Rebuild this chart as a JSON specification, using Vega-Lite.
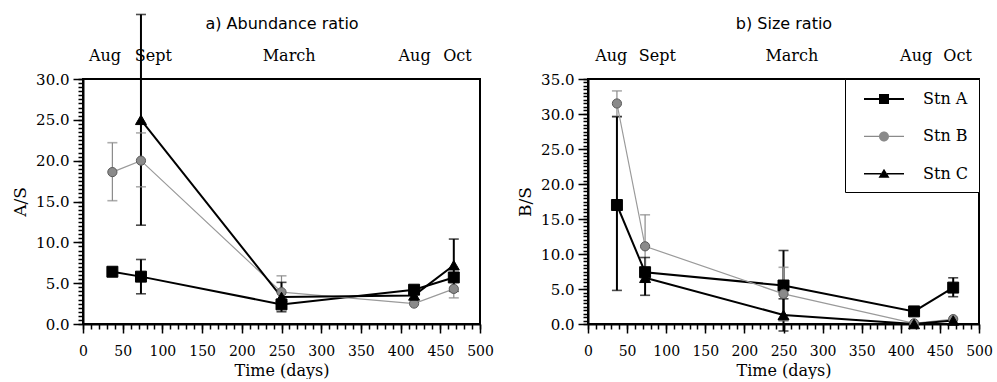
{
  "$schema": "https://vega.github.io/schema/vega-lite/v6.json",
  "background": "white",
  "padding": {"left": 10, "top": 12, "right": 0, "bottom": 0},
  "bounds": "flush",
  "spacing": 108,
  "config": {
    "view": {"stroke": "black", "strokeWidth": 2},
    "axis": {
      "grid": false,
      "domainColor": "black",
      "domainWidth": 2,
      "tickColor": "black",
      "tickWidth": 1.5,
      "labelColor": "black",
      "titleColor": "black",
      "labelFont": "DejaVu Serif",
      "titleFont": "DejaVu Serif",
      "labelFontSize": 14,
      "titleFontSize": 16,
      "titleFontWeight": "normal"
    }
  },
  "datasets": {
    "abundance": [
      {"station": "Stn A", "day": 37, "value": 6.4},
      {"station": "Stn A", "day": 73, "value": 5.8, "lo": 3.7, "hi": 7.9},
      {"station": "Stn A", "day": 250, "value": 2.4},
      {"station": "Stn A", "day": 417, "value": 4.2},
      {"station": "Stn A", "day": 467, "value": 5.7},
      {"station": "Stn B", "day": 37, "value": 18.6, "lo": 15.1, "hi": 22.2},
      {"station": "Stn B", "day": 73, "value": 20.0, "lo": 16.8, "hi": 23.4},
      {"station": "Stn B", "day": 250, "value": 3.9, "lo": 2.0, "hi": 5.9},
      {"station": "Stn B", "day": 417, "value": 2.5},
      {"station": "Stn B", "day": 467, "value": 4.3, "lo": 3.2, "hi": 5.4},
      {"station": "Stn C", "day": 73, "value": 25.0, "lo": 12.1, "hi": 37.9},
      {"station": "Stn C", "day": 250, "value": 3.3, "lo": 1.5, "hi": 5.1},
      {"station": "Stn C", "day": 417, "value": 3.5},
      {"station": "Stn C", "day": 467, "value": 7.2, "lo": 4.0, "hi": 10.4}
    ],
    "size": [
      {"station": "Stn A", "day": 37, "value": 17.0, "lo": 4.8, "hi": 29.6},
      {"station": "Stn A", "day": 73, "value": 7.4, "lo": 4.1, "hi": 9.5},
      {"station": "Stn A", "day": 250, "value": 5.5, "lo": 0.5, "hi": 10.5},
      {"station": "Stn A", "day": 417, "value": 1.8},
      {"station": "Stn A", "day": 467, "value": 5.2, "lo": 3.9, "hi": 6.6},
      {"station": "Stn B", "day": 37, "value": 31.5, "lo": 29.7, "hi": 33.3},
      {"station": "Stn B", "day": 73, "value": 11.1, "lo": 6.6, "hi": 15.6},
      {"station": "Stn B", "day": 250, "value": 4.3, "lo": 0.5, "hi": 8.1},
      {"station": "Stn B", "day": 417, "value": 0.1},
      {"station": "Stn B", "day": 467, "value": 0.7},
      {"station": "Stn C", "day": 73, "value": 6.6},
      {"station": "Stn C", "day": 250, "value": 1.3, "lo": -1.0, "hi": 3.6},
      {"station": "Stn C", "day": 417, "value": 0.0},
      {"station": "Stn C", "day": 467, "value": 0.5}
    ]
  },
  "hconcat": [
    {
      "width": 397,
      "height": 245,
      "data": {"name": "abundance"},
      "resolve": {"axis": {"x": "independent", "y": "independent"}},
      "layer": [
        {
          "transform": [{"filter": "isValid(datum.lo)"}],
          "mark": {"type": "rule"},
          "encoding": {
            "x": {"field": "day", "type": "quantitative", "scale": {"domain": [0, 500], "nice": false},
              "axis": {"orient": "top", "values": [27, 88, 259, 417, 471], "labelExpr": "datum.value == 27 ? 'Aug' : datum.value == 88 ? 'Sept' : datum.value == 259 ? 'March' : datum.value == 417 ? 'Aug' : 'Oct'", "ticks": false, "tickSize": 0, "domain": false, "labelFontSize": 16, "labelPadding": 16, "labelFlush": false, "labelOverlap": false, "title": "a) Abundance ratio", "titleFont": "DejaVu Sans", "titleFontSize": 16, "titlePadding": 16}},
            "y": {"field": "lo", "type": "quantitative", "scale": {"domain": [0, 30], "nice": false}, "axis": null},
            "y2": {"field": "hi"},
            "stroke": {"condition": {"test": "datum.station === 'Stn B'", "value": "#8a8a8a"}, "value": "#000000"},
            "strokeWidth": {"condition": {"test": "datum.station === 'Stn B'", "value": 1.2}, "value": 2}
          }
        },
        {
          "transform": [{"filter": "isValid(datum.lo)"}],
          "mark": {"type": "tick", "orient": "horizontal", "size": 10, "thickness": 1.6},
          "encoding": {
            "x": {"field": "day", "type": "quantitative", "scale": {"domain": [0, 500], "nice": false},
              "axis": {"orient": "bottom", "values": [0, 10, 20, 30, 40, 50, 60, 70, 80, 90, 100, 110, 120, 130, 140, 150, 160, 170, 180, 190, 200, 210, 220, 230, 240, 250, 260, 270, 280, 290, 300, 310, 320, 330, 340, 350, 360, 370, 380, 390, 400, 410, 420, 430, 440, 450, 460, 470, 480, 490, 500], "labels": false, "domain": false, "tickSize": 5, "title": null}},
            "y": {"field": "lo", "type": "quantitative", "scale": {"domain": [0, 30], "nice": false},
              "axis": {"orient": "left", "values": [0, 0.5, 1, 1.5, 2, 2.5, 3, 3.5, 4, 4.5, 5, 5.5, 6, 6.5, 7, 7.5, 8, 8.5, 9, 9.5, 10, 10.5, 11, 11.5, 12, 12.5, 13, 13.5, 14, 14.5, 15, 15.5, 16, 16.5, 17, 17.5, 18, 18.5, 19, 19.5, 20, 20.5, 21, 21.5, 22, 22.5, 23, 23.5, 24, 24.5, 25, 25.5, 26, 26.5, 27, 27.5, 28, 28.5, 29, 29.5, 30], "labels": false, "domain": false, "tickSize": 5, "title": null}},
            "color": {"condition": {"test": "datum.station === 'Stn B'", "value": "#8a8a8a"}, "value": "#000000"}
          }
        },
        {
          "transform": [{"filter": "isValid(datum.hi)"}],
          "mark": {"type": "tick", "orient": "horizontal", "size": 10, "thickness": 1.6},
          "encoding": {
            "x": {"field": "day", "type": "quantitative", "scale": {"domain": [0, 500], "nice": false}, "axis": null},
            "y": {"field": "hi", "type": "quantitative", "scale": {"domain": [0, 30], "nice": false}, "axis": null},
            "color": {"condition": {"test": "datum.station === 'Stn B'", "value": "#8a8a8a"}, "value": "#000000"}
          }
        },
        {
          "mark": {"type": "line"},
          "encoding": {
            "x": {"field": "day", "type": "quantitative", "scale": {"domain": [0, 500], "nice": false},
              "axis": {"orient": "bottom", "values": [0, 50, 100, 150, 200, 250, 300, 350, 400, 450, 500], "tickSize": 9, "labelPadding": 11, "labelFlush": false, "title": "Time (days)", "titlePadding": 4}},
            "y": {"field": "value", "type": "quantitative", "scale": {"domain": [0, 30], "nice": false},
              "axis": {"orient": "left", "values": [0, 5, 10, 15, 20, 25, 30], "format": ".1f", "tickSize": 10, "labelPadding": 4, "labelFontSize": 15, "title": "A/S", "titleFontSize": 17, "titlePadding": 6}},
            "detail": {"field": "station", "type": "nominal"},
            "stroke": {"condition": {"test": "datum.station === 'Stn B'", "value": "#9a9a9a"}, "value": "#000000"},
            "strokeWidth": {"condition": {"test": "datum.station === 'Stn B'", "value": 1.2}, "value": 2}
          }
        },
        {
          "mark": {"type": "point", "filled": true, "opacity": 1, "strokeWidth": 1},
          "encoding": {
            "x": {"field": "day", "type": "quantitative", "scale": {"domain": [0, 500], "nice": false}, "axis": null},
            "y": {"field": "value", "type": "quantitative", "scale": {"domain": [0, 30], "nice": false}, "axis": null},
            "shape": {"condition": [{"test": "datum.station === 'Stn B'", "value": "circle"}, {"test": "datum.station === 'Stn C'", "value": "triangle-up"}], "value": "square"},
            "size": {"condition": {"test": "datum.station === 'Stn B'", "value": 85}, "value": 120},
            "fill": {"condition": {"test": "datum.station === 'Stn B'", "value": "#8a8a8a"}, "value": "#000000"},
            "stroke": {"condition": {"test": "datum.station === 'Stn B'", "value": "#5a5a5a"}, "value": "#000000"}
          }
        }
      ]
    },
    {
      "width": 391,
      "height": 245,
      "data": {"name": "size"},
      "resolve": {"axis": {"x": "independent", "y": "independent"}},
      "layer": [
        {
          "transform": [{"filter": "isValid(datum.lo)"}],
          "mark": {"type": "rule"},
          "encoding": {
            "x": {"field": "day", "type": "quantitative", "scale": {"domain": [0, 500], "nice": false},
              "axis": {"orient": "top", "values": [29, 88, 260, 419, 472], "labelExpr": "datum.value == 29 ? 'Aug' : datum.value == 88 ? 'Sept' : datum.value == 260 ? 'March' : datum.value == 419 ? 'Aug' : 'Oct'", "ticks": false, "tickSize": 0, "domain": false, "labelFontSize": 16, "labelPadding": 16, "labelFlush": false, "labelOverlap": false, "title": "b) Size ratio", "titleFont": "DejaVu Sans", "titleFontSize": 16, "titlePadding": 16}},
            "y": {"field": "lo", "type": "quantitative", "scale": {"domain": [0, 35], "nice": false}, "axis": null},
            "y2": {"field": "hi"},
            "stroke": {"condition": {"test": "datum.station === 'Stn B'", "value": "#8a8a8a"}, "value": "#000000"},
            "strokeWidth": {"condition": {"test": "datum.station === 'Stn B'", "value": 1.2}, "value": 2}
          }
        },
        {
          "transform": [{"filter": "isValid(datum.lo)"}],
          "mark": {"type": "tick", "orient": "horizontal", "size": 10, "thickness": 1.6},
          "encoding": {
            "x": {"field": "day", "type": "quantitative", "scale": {"domain": [0, 500], "nice": false},
              "axis": {"orient": "bottom", "values": [0, 10, 20, 30, 40, 50, 60, 70, 80, 90, 100, 110, 120, 130, 140, 150, 160, 170, 180, 190, 200, 210, 220, 230, 240, 250, 260, 270, 280, 290, 300, 310, 320, 330, 340, 350, 360, 370, 380, 390, 400, 410, 420, 430, 440, 450, 460, 470, 480, 490, 500], "labels": false, "domain": false, "tickSize": 5, "title": null}},
            "y": {"field": "lo", "type": "quantitative", "scale": {"domain": [0, 35], "nice": false},
              "axis": {"orient": "left", "values": [0, 0.5, 1, 1.5, 2, 2.5, 3, 3.5, 4, 4.5, 5, 5.5, 6, 6.5, 7, 7.5, 8, 8.5, 9, 9.5, 10, 10.5, 11, 11.5, 12, 12.5, 13, 13.5, 14, 14.5, 15, 15.5, 16, 16.5, 17, 17.5, 18, 18.5, 19, 19.5, 20, 20.5, 21, 21.5, 22, 22.5, 23, 23.5, 24, 24.5, 25, 25.5, 26, 26.5, 27, 27.5, 28, 28.5, 29, 29.5, 30, 30.5, 31, 31.5, 32, 32.5, 33, 33.5, 34, 34.5, 35], "labels": false, "domain": false, "tickSize": 5, "title": null}},
            "color": {"condition": {"test": "datum.station === 'Stn B'", "value": "#8a8a8a"}, "value": "#000000"}
          }
        },
        {
          "transform": [{"filter": "isValid(datum.hi)"}],
          "mark": {"type": "tick", "orient": "horizontal", "size": 10, "thickness": 1.6},
          "encoding": {
            "x": {"field": "day", "type": "quantitative", "scale": {"domain": [0, 500], "nice": false}, "axis": null},
            "y": {"field": "hi", "type": "quantitative", "scale": {"domain": [0, 35], "nice": false}, "axis": null},
            "color": {"condition": {"test": "datum.station === 'Stn B'", "value": "#8a8a8a"}, "value": "#000000"}
          }
        },
        {
          "mark": {"type": "line"},
          "encoding": {
            "x": {"field": "day", "type": "quantitative", "scale": {"domain": [0, 500], "nice": false},
              "axis": {"orient": "bottom", "values": [0, 50, 100, 150, 200, 250, 300, 350, 400, 450, 500], "tickSize": 9, "labelPadding": 11, "labelFlush": false, "title": "Time (days)", "titlePadding": 4}},
            "y": {"field": "value", "type": "quantitative", "scale": {"domain": [0, 35], "nice": false},
              "axis": {"orient": "left", "values": [0, 5, 10, 15, 20, 25, 30, 35], "format": ".1f", "tickSize": 10, "labelPadding": 4, "labelFontSize": 15, "title": "B/S", "titleFontSize": 17, "titlePadding": 6}},
            "detail": {"field": "station", "type": "nominal"},
            "stroke": {"condition": {"test": "datum.station === 'Stn B'", "value": "#9a9a9a"}, "value": "#000000"},
            "strokeWidth": {"condition": {"test": "datum.station === 'Stn B'", "value": 1.2}, "value": 2}
          }
        },
        {
          "mark": {"type": "point", "filled": true, "opacity": 1, "strokeWidth": 1},
          "encoding": {
            "x": {"field": "day", "type": "quantitative", "scale": {"domain": [0, 500], "nice": false}, "axis": null},
            "y": {"field": "value", "type": "quantitative", "scale": {"domain": [0, 35], "nice": false}, "axis": null},
            "shape": {"condition": [{"test": "datum.station === 'Stn B'", "value": "circle"}, {"test": "datum.station === 'Stn C'", "value": "triangle-up"}], "value": "square"},
            "size": {"condition": {"test": "datum.station === 'Stn B'", "value": 85}, "value": 120},
            "fill": {"condition": {"test": "datum.station === 'Stn B'", "value": "#8a8a8a"}, "value": "#000000"},
            "stroke": {"condition": {"test": "datum.station === 'Stn B'", "value": "#5a5a5a"}, "value": "#000000"}
          }
        },
        {
          "mark": {"type": "point", "filled": true, "opacity": 0, "strokeWidth": 0},
          "encoding": {
            "x": {"field": "day", "type": "quantitative", "scale": {"domain": [0, 500], "nice": false}, "axis": null},
            "y": {"field": "value", "type": "quantitative", "scale": {"domain": [0, 35], "nice": false}, "axis": null},
            "shape": {"field": "station", "type": "nominal",
              "scale": {"domain": ["Stn A", "Stn B", "Stn C"], "range": [
                "M-2,-0.1H-0.5V0.1H-2Z M0.5,-0.1H2V0.1H0.5Z M-0.5,-0.5H0.5V0.5H-0.5Z",
                "M-2,-0.06H-0.48V0.06H-2Z M0.48,-0.06H2V0.06H0.48Z M-0.5,0A0.5,0.5 0 1,1 0.5,0A0.5,0.5 0 1,1 -0.5,0Z",
                "M-2,-0.08H-0.3V0.08H-2Z M0.3,-0.08H2V0.08H0.3Z M-0.55,0.4L0,-0.5L0.55,0.4Z"]},
              "legend": {
                "orient": "top-right",
                "offset": 0,
                "title": null,
                "padding": 10,
                "rowPadding": 19.4,
                "symbolSize": 400,
                "symbolOffset": 19,
                "symbolOpacity": 1,
                "symbolStrokeWidth": 0,
                "labelOffset": 29,
                "labelExpr": "datum.label + '\u2003\u2003'",
                "labelFont": "DejaVu Serif",
                "labelFontSize": 16,
                "labelColor": "black",
                "strokeColor": "black",
                "fillColor": "white"
              }},
            "fill": {"field": "station", "type": "nominal", "scale": {"domain": ["Stn A", "Stn B", "Stn C"], "range": ["#000000", "#8a8a8a", "#000000"]}}
          }
        }
      ]
    }
  ],
  "resolve": {"scale": {"shape": "independent", "fill": "independent"}, "legend": {"shape": "independent", "fill": "independent"}}
}
